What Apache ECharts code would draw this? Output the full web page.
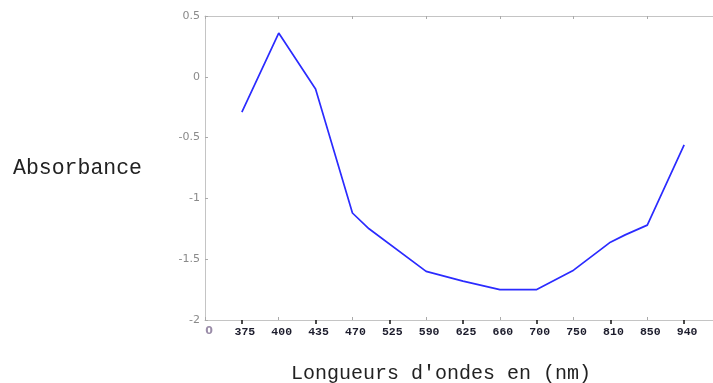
<!DOCTYPE html>
<html>
<head>
<meta charset="utf-8">
<script src="https://cdn.jsdelivr.net/npm/echarts@6/dist/echarts.min.js"></script>
<style>
  html, body { margin: 0; padding: 0; background: #ffffff; }
  #chart { width: 713px; height: 383px; }
</style>
</head>
<body>
<div id="chart"></div>
<script>
// Wavelength labels placed at tick positions 1..13 (position 0 shows "0")
const wavelengths = ['375', '400', '435', '470', '525', '590', '625', '660', '700', '750', '810', '850', '940'];

// Measured absorbance curve: positions along the wavelength ticks and values
const curvePos = [1, 2, 3, 4, 4.45, 6, 7, 8, 9, 10, 11, 11.4, 12, 13];
const absorbance = [-0.29, 0.36, -0.10, -1.12, -1.25, -1.60, -1.68, -1.75, -1.75, -1.59, -1.36, -1.30, -1.22, -0.56];

// Y axis ticks
const yMin = -2;
const yMax = 0.5;
const yStep = 0.5;

const curve = curvePos.map((p, i) => [p, absorbance[i]]);

const chart = echarts.init(document.getElementById('chart'), null, { renderer: 'canvas' });

const axisGrey = '#c4c4c4';

chart.setOption({
  animation: false,
  backgroundColor: '#ffffff',
  grid: {
    left: 205,
    top: 16,
    width: 516,
    height: 304,
    containLabel: false,
    outerBoundsMode: 'none'
  },
  xAxis: [
    {
      // label axis
      type: 'value',
      position: 'bottom',
      min: 0,
      max: 14,
      interval: 1,
      axisLine: { show: false },
      axisTick: { show: false },
      splitLine: { show: false },
      axisLabel: {
        margin: 6,
        fontFamily: 'Liberation Mono',
        fontSize: 11.5,
        fontWeight: 'bold',
        color: '#1c1c2c',
        padding: [0, 0, 0, 6],
        formatter: function (v) {
          if (v === 0) return '{z|0}';
          const i = Math.round(v) - 1;
          return (i >= 0 && i < wavelengths.length) ? wavelengths[i] : '';
        },
        rich: {
          z: { fontFamily: 'DejaVu Sans', fontSize: 11, color: '#9a8ca8', padding: [0, 0, 4, 2] }
        }
      }
    },
    {
      // bottom frame line with grey major and dark minor ticks
      type: 'value',
      position: 'bottom',
      min: 0,
      max: 14,
      interval: 2,
      axisLine: { show: true, lineStyle: { color: axisGrey, width: 1 } },
      axisTick: { show: true, inside: true, length: 3, lineStyle: { color: '#aaaaaa' } },
      minorTick: { show: true, splitNumber: 2, length: -4, lineStyle: { color: '#111111', width: 1.5 } },
      axisLabel: { show: false },
      splitLine: { show: false }
    },
    {
      // top frame line
      type: 'value',
      position: 'top',
      min: 0,
      max: 14,
      interval: 2,
      axisLine: { show: true, lineStyle: { color: axisGrey, width: 1 } },
      axisTick: { show: true, inside: true, length: 3, lineStyle: { color: '#aaaaaa' } },
      axisLabel: { show: false },
      splitLine: { show: false }
    }
  ],
  yAxis: {
    type: 'value',
    min: yMin,
    max: yMax,
    interval: yStep,
    position: 'left',
    axisLine: { show: true, lineStyle: { color: axisGrey, width: 1 } },
    axisTick: { show: true, inside: true, length: 3, lineStyle: { color: '#aaaaaa' } },
    splitLine: { show: false },
    axisLabel: {
      margin: 5,
      fontFamily: 'DejaVu Sans',
      fontSize: 11,
      color: '#8a8a8a'
    },
    name: 'Absorbance',
    nameLocation: 'middle',
    nameRotate: 0,
    nameGap: 63,
    nameTextStyle: {
      fontFamily: 'Liberation Mono',
      fontSize: 21.5,
      color: '#222222',
      align: 'right',
      verticalAlign: 'middle'
    }
  },
  graphic: [
    {
      type: 'text',
      left: 291,
      top: 364,
      style: {
        text: "Longueurs d'ondes en (nm)",
        font: '20px "Liberation Mono"',
        fill: '#222222'
      }
    }
  ],
  series: [
    {
      type: 'line',
      xAxisIndex: 0,
      data: curve,
      showSymbol: false,
      symbol: 'none',
      lineStyle: { color: '#2b2bff', width: 1.7 },
      silent: true
    }
  ]
});
</script>
</body>
</html>
